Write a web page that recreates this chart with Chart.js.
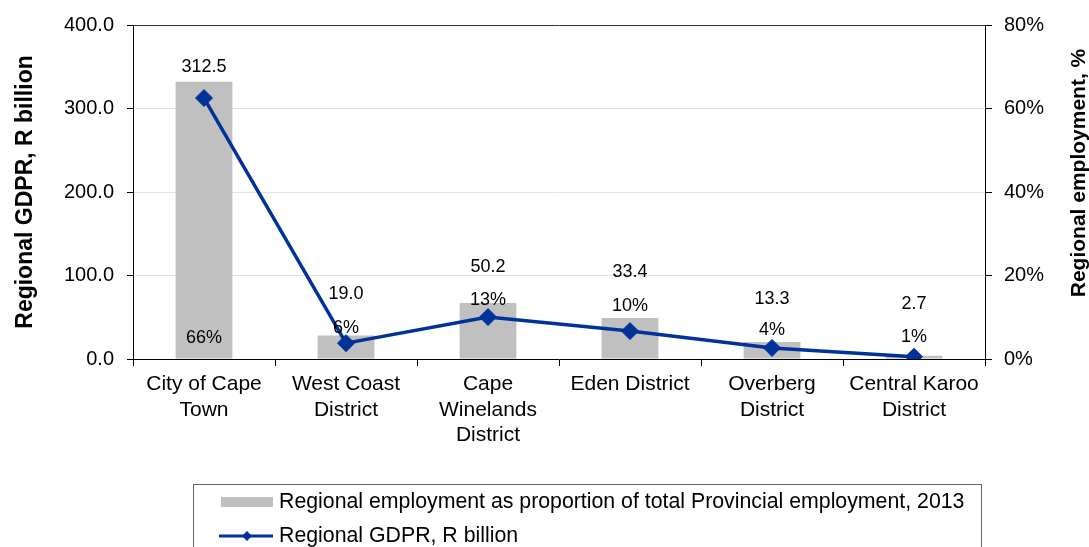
<!DOCTYPE html>
<html>
<head>
<meta charset="utf-8">
<script src="https://cdn.jsdelivr.net/npm/chart.js@4.4.1/dist/chart.umd.min.js"></script>
<style>
  html, body { margin: 0; padding: 0; background: #fff; }
  #wrap { position: relative; width: 1089px; height: 547px; }
</style>
</head>
<body>
<div id="wrap"><canvas id="regionChart"></canvas></div>
<script>
let categories = [['City of Cape', 'Town'], ['West Coast', 'District'], ['Cape', 'Winelands', 'District'], 'Eden District', ['Overberg', 'District'], ['Central Karoo', 'District']]
let employmentShare = [66.4, 5.6, 13.4, 9.8, 4.1, 0.8]
let gdpr = [312.5, 19.0, 50.2, 33.4, 13.3, 2.7]
let gdprTicks = [0, 100, 200, 300, 400]
let shareTicks = [0, 20, 40, 60, 80]
let seriesNames = ['Regional employment as proportion of total Provincial employment, 2013', 'Regional GDPR, R billion']
let axisTitles = ['Regional GDPR, R billion', 'Regional employment, %']

// labels were hand placed in the original, so keep their lift (px) apart from the data
let barLabelLift = [21, 31, 59, 53, 29, 22]
let lineLabelLift = [31, 49, 50, 59, 49, 53]

let FONT = '"Liberation Sans", Arial, sans-serif'
let barGrey = '#C0C0C0'
let lineBlue = '#003399'

Chart.defaults.font.family = FONT
Chart.defaults.color = '#000'

let valueLabels = {
  id: 'valueLabels',
  afterDatasetsDraw(chart) {
    let ctx = chart.ctx
    let base = chart.scales.y1.getPixelForValue(0)
    ctx.save()
    ctx.font = '18px ' + FONT
    ctx.fillStyle = '#000'
    ctx.textAlign = 'center'
    ctx.textBaseline = 'middle'
    chart.getDatasetMeta(0).data.forEach((bar, i) => {
      ctx.fillText(Math.round(employmentShare[i]) + '%', bar.x, base - barLabelLift[i])
    })
    chart.getDatasetMeta(1).data.forEach((pt, i) => {
      ctx.fillText(gdpr[i].toFixed(1), pt.x, pt.y - lineLabelLift[i])
    })
    ctx.restore()
  }
}

let upText = (ctx, text, x, y) => {
  ctx.save()
  ctx.translate(x, y)
  ctx.rotate(-Math.PI / 2)
  ctx.fillText(text, 0, 0)
  ctx.restore()
}

let titlesAndLegend = {
  id: 'titlesAndLegend',
  afterDraw(chart) {
    let ctx = chart.ctx
    let area = chart.chartArea
    let mid = (area.top + area.bottom) / 2
    ctx.save()
    ctx.fillStyle = '#000'
    ctx.textAlign = 'center'
    ctx.textBaseline = 'alphabetic'
    ctx.font = 'bold 23px ' + FONT
    upText(ctx, axisTitles[0], 32, mid)
    ctx.font = 'bold 21px ' + FONT
    upText(ctx, axisTitles[1], 1085, mid - 19)

    // legend box
    ctx.strokeStyle = '#666'
    ctx.lineWidth = 1
    ctx.strokeRect(193.5, 484.5, 788, 80)
    ctx.font = '21.3px ' + FONT
    ctx.textAlign = 'left'
    ctx.textBaseline = 'middle'
    let sets = chart.data.datasets
    ctx.fillStyle = sets[0].backgroundColor
    ctx.fillRect(221, 497, 52, 10)
    ctx.fillStyle = '#000'
    ctx.fillText(sets[0].label, 279, 502)

    ctx.strokeStyle = sets[1].borderColor
    ctx.lineWidth = 3
    ctx.beginPath()
    ctx.moveTo(219, 536)
    ctx.lineTo(273, 536)
    ctx.stroke()
    ctx.fillStyle = sets[1].borderColor
    ctx.beginPath()
    ctx.moveTo(247, 531); ctx.lineTo(252, 536); ctx.lineTo(247, 541); ctx.lineTo(242, 536)
    ctx.closePath()
    ctx.fill()
    ctx.fillStyle = '#000'
    ctx.fillText(sets[1].label, 279, 536)
    ctx.restore()
  }
}

new Chart(document.getElementById('regionChart'), {
  type: 'bar',
  data: {
    labels: categories,
    datasets: [{
      type: 'bar',
      label: seriesNames[0],
      data: employmentShare,
      yAxisID: 'y1',
      backgroundColor: barGrey,
      barPercentage: 0.4,
      categoryPercentage: 1.0,
      order: 1
    }, {
      type: 'line',
      label: seriesNames[1],
      data: gdpr,
      yAxisID: 'y',
      borderColor: lineBlue,
      backgroundColor: lineBlue,
      borderWidth: 3.5,
      pointStyle: 'rectRot',
      pointRadius: 8.5,
      pointBorderWidth: 1,
      pointBackgroundColor: lineBlue,
      tension: 0,
      order: 0
    }]
  },
  options: {
    responsive: true,
    maintainAspectRatio: false,
    devicePixelRatio: 1,
    animation: false,
    layout: { padding: { top: 25, left: 0, right: 0, bottom: 0 } },
    plugins: { legend: { display: false }, tooltip: { enabled: false } },
    scales: {
      x: {
        offset: true,
        grid: { offset: true, drawOnChartArea: false, tickLength: 7, tickColor: '#000' },
        border: { color: '#000' },
        ticks: { font: { size: 21 }, padding: 6, maxRotation: 0, autoSkip: false },
        afterFit: s => { s.height = 188 }
      },
      y: {
        position: 'left',
        min: gdprTicks[0],
        max: gdprTicks[gdprTicks.length - 1],
        afterBuildTicks: s => { s.ticks = gdprTicks.map(v => ({ value: v })) },
        grid: {
          color: c => c.tick && c.tick.value === 400 ? '#333' : '#E3E3E3',
          tickLength: 6,
          tickColor: '#000'
        },
        border: { color: '#000' },
        ticks: { font: { size: 20 }, padding: 13, callback: v => v.toFixed(1) },
        afterFit: s => { s.width = 133 }
      },
      y1: {
        position: 'right',
        min: shareTicks[0],
        max: shareTicks[shareTicks.length - 1],
        afterBuildTicks: s => { s.ticks = shareTicks.map(v => ({ value: v })) },
        grid: { drawOnChartArea: false, tickLength: 7, tickColor: '#000' },
        border: { color: '#000' },
        ticks: { font: { size: 20 }, padding: 12, callback: v => v + '%' },
        afterFit: s => { s.width = 104 }
      }
    }
  },
  plugins: [valueLabels, titlesAndLegend]
})
</script>
</body>
</html>
